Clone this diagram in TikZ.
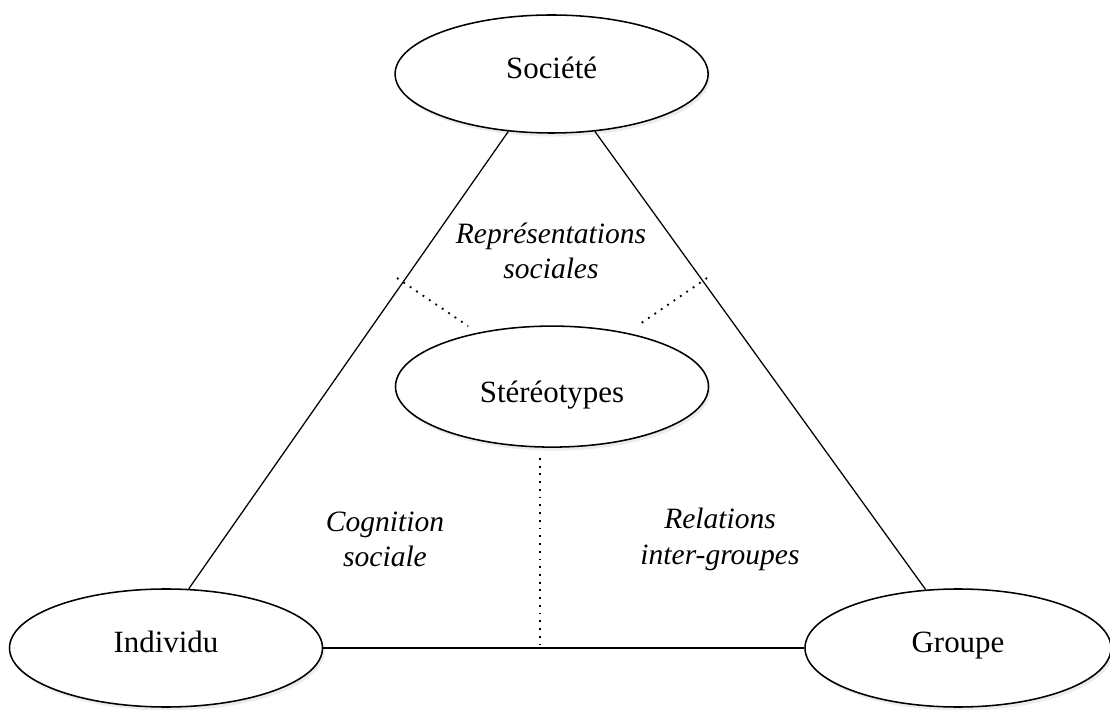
\documentclass[tikz,border=0pt]{standalone}
\usepackage{fontspec}
\setmainfont{Liberation Serif}
\usetikzlibrary{shapes.geometric,shadows}

\tikzset{
  pole/.style={ellipse, draw, line width=1.1pt, fill=white,
    minimum width=7.825cm, minimum height=2.95cm, inner sep=0pt,
    text height=11pt, text depth=5pt,
    font=\fontsize{22}{25}\selectfont,
    drop shadow={shadow xshift=1.5pt, shadow yshift=-2.5pt, fill=black!15}},
  field/.style={align=center, font=\fontsize{21}{25}\selectfont\itshape},
  link/.style={line width=0.9pt},
  hint/.style={line width=1.3pt, dash pattern=on 1.3pt off 4.2pt},
}

\begin{document}
\begin{tikzpicture}
    \useasboundingbox (0,0) rectangle (27.75,17.725);

    \node[pole] (soc) at (13.79,15.875) {Société};
    \node[pole, minimum height=3.025cm, text height=22pt, text depth=0pt]
      (ster) at (13.8,8.06) {Stéréotypes};
    \node[pole] (ind) at (4.15,1.525) {Individu};
    \node[pole, minimum width=7.65cm] (grp) at (23.95,1.525) {Groupe};

    \draw[link] (soc.233.6) -- (ind.69.5);
    \draw[link] (soc.307.6) -- (grp.119.3);
    \draw[link] (ind.east) -- (grp.west);

    %%%%
    \coordinate (rl) at (9.925,10.775);
    \coordinate (sl) at (11.7,9.575);
    \coordinate (rr) at (17.675,10.775);
    \coordinate (sr) at (15.925,9.575);
    \coordinate (sb) at (13.5,6.275);

    \draw[hint] (rl) -- (sl);
    \draw[hint] (rr) -- (sr);
    \draw[hint] (sb) -- (sb |- ind.east);

    \node[field] (rep) at (13.775,11.46) {Représentations\\sociales};
    \node[field] (cog) at (9.625,4.24) {Cognition\\sociale};
    \node[field] (rel) at (18.0,4.24) {Relations\\inter-groupes};
  \end{tikzpicture}
\end{document}
